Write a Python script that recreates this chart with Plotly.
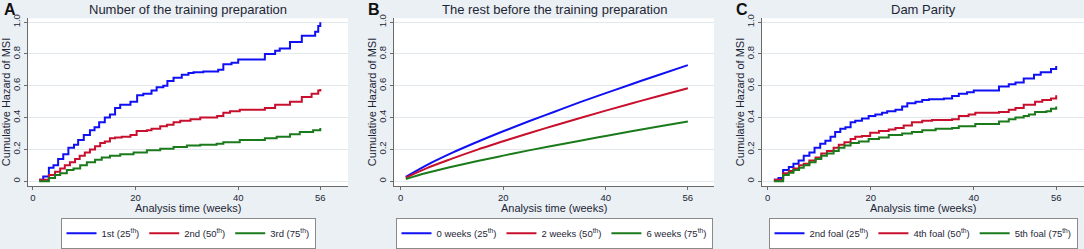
import plotly.graph_objects as go

# ---------------- data ----------------
# Panel A: Number of the training preparation (step curves)
a_blue_t = [1.2, 2.0, 3.1, 4.0, 4.9, 5.9, 6.9, 8.0, 8.8, 9.9, 11.1, 12.0, 12.9, 14.0, 15.0, 16.0, 17.0, 19.0, 20.3, 21.5,
            23.1, 24.1, 25.4, 26.2, 27.4, 29.0, 30.3, 31.3, 33.2, 36.1, 37.1, 38.7, 40.0, 45.2, 47.2, 48.1, 50.1, 52.4,
            55.0, 55.6, 56.0]
a_blue_v = [0.01, 0.03, 0.085, 0.10, 0.14, 0.17, 0.21, 0.23, 0.26, 0.29, 0.32, 0.34, 0.37, 0.40, 0.42, 0.46, 0.48, 0.50,
            0.54, 0.55, 0.57, 0.59, 0.60, 0.63, 0.65, 0.67, 0.68, 0.685, 0.69, 0.70, 0.735, 0.745, 0.765, 0.80, 0.82,
            0.835, 0.875, 0.915, 0.94, 0.975, 1.0]
a_red_t = [1.2, 3.1, 4.3, 5.3, 6.2, 7.2, 8.2, 9.1, 10.1, 11.1, 12.1, 13.1, 14.0, 15.0, 16.0, 17.3, 19.0, 20.2, 22.2,
           23.1, 24.8, 26.1, 27.4, 28.7, 30.7, 32.6, 35.9, 37.1, 38.4, 40.3, 45.2, 47.2, 50.1, 52.4, 54.3, 55.6, 56.0]
a_red_v = [0.01, 0.04, 0.06, 0.08, 0.10, 0.12, 0.14, 0.16, 0.18, 0.20, 0.22, 0.24, 0.25, 0.27, 0.275, 0.28, 0.29,
           0.315, 0.32, 0.33, 0.345, 0.355, 0.37, 0.38, 0.39, 0.40, 0.41, 0.43, 0.44, 0.45, 0.46, 0.48, 0.50, 0.53,
           0.55, 0.57, 0.58]
a_green_t = [1.2, 3.1, 4.3, 5.3, 6.6, 7.9, 9.2, 10.5, 12.1, 13.4, 15.0, 17.0, 19.6, 22.2, 24.8, 27.4, 30.0, 32.6, 35.8,
             37.1, 40.3, 45.2, 47.5, 50.1, 52.0, 54.6, 56.0]
a_green_v = [0.0, 0.02, 0.04, 0.05, 0.07, 0.08, 0.10, 0.12, 0.135, 0.15, 0.16, 0.17, 0.18, 0.195, 0.205, 0.215, 0.225,
             0.23, 0.235, 0.245, 0.26, 0.27, 0.28, 0.295, 0.31, 0.32, 0.335]

# Panel B: The rest before the training preparation (smooth curves)
b_t = [1, 5, 10, 15, 20, 25, 30, 35, 40, 45, 50, 56]
b_blue_v = [0.027, 0.10, 0.178, 0.248, 0.314, 0.377, 0.437, 0.497, 0.554, 0.610, 0.665, 0.73]
b_red_v = [0.022, 0.081, 0.142, 0.199, 0.251, 0.302, 0.350, 0.398, 0.444, 0.489, 0.533, 0.585]
b_green_v = [0.014, 0.052, 0.091, 0.127, 0.161, 0.194, 0.225, 0.255, 0.285, 0.314, 0.342, 0.375]

# Panel C: Dam Parity (step curves)
c_blue_t = [1.2, 2.1, 3.0, 4.1, 5.0, 6.0, 7.0, 8.1, 9.1, 10.2, 11.2, 12.2, 13.1, 14.1, 15.1, 16.1, 17.0, 18.3, 19.6,
            20.9, 22.2, 23.2, 24.8, 26.1, 27.1, 28.7, 30.0, 31.3, 34.2, 35.8, 37.1, 38.7, 40.0, 44.9, 46.8, 48.1, 49.7,
            51.7, 53.0, 55.0, 56.0]
c_blue_v = [0.01, 0.02, 0.07, 0.09, 0.11, 0.13, 0.16, 0.18, 0.21, 0.235, 0.255, 0.28, 0.31, 0.33, 0.34, 0.37, 0.38,
            0.395, 0.41, 0.42, 0.43, 0.44, 0.45, 0.47, 0.49, 0.50, 0.51, 0.515, 0.52, 0.535, 0.55, 0.56, 0.57, 0.595,
            0.61, 0.62, 0.645, 0.67, 0.685, 0.705, 0.725]
c_red_t = [1.2, 3.0, 4.1, 5.0, 6.1, 7.0, 8.1, 9.3, 10.4, 11.5, 12.8, 13.8, 14.9, 16.1, 17.0, 18.3, 19.9, 21.6, 23.5,
           24.8, 26.4, 28.0, 30.0, 31.9, 35.8, 37.1, 39.0, 40.3, 44.9, 46.8, 48.1, 49.7, 51.9, 53.3, 55.0, 56.0]
c_red_v = [0.01, 0.05, 0.065, 0.08, 0.10, 0.11, 0.13, 0.15, 0.175, 0.19, 0.21, 0.23, 0.245, 0.265, 0.28, 0.285, 0.305,
           0.315, 0.325, 0.335, 0.35, 0.37, 0.38, 0.385, 0.39, 0.41, 0.42, 0.43, 0.435, 0.45, 0.46, 0.48, 0.50, 0.51,
           0.52, 0.54]
c_green_t = [1.2, 3.0, 4.1, 5.0, 6.1, 7.0, 8.1, 9.3, 10.4, 11.5, 12.8, 13.8, 14.9, 16.1, 17.7, 19.6, 21.6, 23.5, 26.1,
             28.0, 30.0, 32.6, 35.8, 37.1, 40.3, 44.9, 46.8, 48.1, 49.7, 50.7, 51.9, 54.1, 55.0, 56.0]
c_green_v = [0.0, 0.04, 0.053, 0.07, 0.085, 0.10, 0.12, 0.14, 0.16, 0.175, 0.19, 0.21, 0.225, 0.24, 0.25, 0.265, 0.275,
             0.29, 0.30, 0.31, 0.32, 0.33, 0.335, 0.345, 0.36, 0.375, 0.39, 0.40, 0.41, 0.42, 0.435, 0.44, 0.455, 0.47]

panel_titles = ["Number of the training preparation", "The rest before the training preparation", "Dam Parity"]
panel_letters = ["A", "B", "C"]
legend_names = [
    ["1st (25<sup>th</sup>)", "2nd (50<sup>th</sup>)", "3rd (75<sup>th</sup>)"],
    ["0 weeks (25<sup>th</sup>)", "2 weeks (50<sup>th</sup>)", "6 weeks (75<sup>th</sup>)"],
    ["2nd foal (25<sup>th</sup>)", "4th foal (50<sup>th</sup>)", "5th foal (75<sup>th</sup>)"],
]
x_ticks = [0, 20, 40, 56]
y_ticks = [0, 0.2, 0.4, 0.6, 0.8, 1.0]
y_ticktext = ["0", "0.2", "0.4", "0.6", "0.8", "1.0"]
x_title = "Analysis time (weeks)"
y_title = "Cumulative Hazard of MSI"

# ---------------- style ----------------
W, H = 1084, 249
BG = "#EAF0F3"
COLORS = ["#1010F5", "#C8102E", "#1B7A1B"]
FONT = "Liberation Sans, Arial, sans-serif"
TXT = "#1E2636"

dom_px = [(28, 348), (394, 714), (762, 1084)]
x_ranges = [[-0.97, 61.4], [-1.3, 61.1], [-1.1, 61.4]]
plot_top, plot_bot = 19, 193
ydom = [1 - plot_bot / H, 1 - plot_top / H]
legend_top = 226

fig = go.Figure()

series = [
    [(a_blue_t, a_blue_v), (a_red_t, a_red_v), (a_green_t, a_green_v)],
    [(b_t, b_blue_v), (b_t, b_red_v), (b_t, b_green_v)],
    [(c_blue_t, c_blue_v), (c_red_t, c_red_v), (c_green_t, c_green_v)],
]

annotations = []
for p in range(3):
    ax_suffix = "" if p == 0 else str(p + 1)
    leg = "legend" if p == 0 else f"legend{p + 1}"
    for s in range(3):
        t, v = series[p][s]
        fig.add_trace(go.Scatter(
            x=t, y=v, mode="lines", name=legend_names[p][s],
            line=dict(color=COLORS[s], width=2, shape="spline" if p == 1 else "hv"),
            xaxis="x" + ax_suffix, yaxis="y" + ax_suffix, legend=leg,
        ))
    x0, x1 = dom_px[p]
    common_axis = dict(showline=True, linecolor="#6B6B6B", linewidth=1, ticks="outside", ticklen=3,
                       tickcolor="#6B6B6B", tickfont=dict(family=FONT, size=9.5, color=TXT),
                       zeroline=False, automargin=False)
    fig.update_layout(**{
        "xaxis" + ax_suffix: dict(domain=[x0 / W, x1 / W], range=x_ranges[p], tickvals=x_ticks,
                                  showgrid=False, anchor="y" + ax_suffix, **common_axis),
        "yaxis" + ax_suffix: dict(domain=ydom, range=[-0.03, 1.024], tickvals=y_ticks, ticktext=y_ticktext,
                                  tickangle=-90, showgrid=True, gridcolor="#E2E9ED", gridwidth=1,
                                  anchor="x" + ax_suffix, **common_axis),
        leg: dict(x=(x0 + x1) / 2 / W, y=1 - legend_top / H, xanchor="center", yanchor="top",
                  orientation="h", bgcolor="white", bordercolor="#8A8A8A", borderwidth=1,
                  font=dict(family=FONT, size=9.5, color=TXT), itemwidth=30, tracegroupgap=0),
    })
    # title
    annotations.append(dict(text=panel_titles[p], x=(x0 + x1) / 2 / W, y=1 - 10 / H, xref="paper", yref="paper",
                            xanchor="center", yanchor="middle", showarrow=False,
                            font=dict(family=FONT, size=13, color=TXT)))
    # panel letter
    letter_x = [2, 366, 734][p]
    annotations.append(dict(text="<b>" + panel_letters[p] + "</b>", x=letter_x / W, y=1 - 10 / H, xref="paper",
                            yref="paper", xanchor="left", yanchor="middle", showarrow=False,
                            font=dict(family=FONT, size=16, color="#111111")))
    # y title
    annotations.append(dict(text=y_title, x=(x0 - 22) / W, y=1 - 106 / H, xref="paper", yref="paper",
                            xanchor="center", yanchor="middle", textangle=-90, showarrow=False,
                            font=dict(family=FONT, size=11, color=TXT)))
    # x title
    annotations.append(dict(text=x_title, x=(x0 + x1) / 2 / W, y=1 - 216 / H, xref="paper", yref="paper",
                            xanchor="center", yanchor="middle", showarrow=False,
                            font=dict(family=FONT, size=11, color=TXT)))

fig.update_layout(
    width=W, height=H, margin=dict(l=0, r=0, t=0, b=0),
    paper_bgcolor=BG, plot_bgcolor="white",
    annotations=annotations, showlegend=True,
)

fig.write_html(
    "out.html",
    config={"displayModeBar": False},
    post_script="document.body.style.margin='0';document.body.style.padding='0';"
                "document.documentElement.style.overflow='hidden';",
)
